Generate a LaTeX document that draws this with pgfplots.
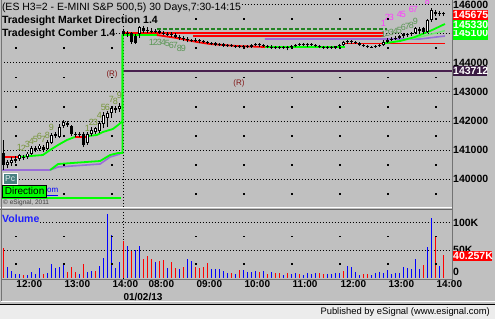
\documentclass[border=0pt]{standalone}
\usepackage{fontspec}
\setmainfont{Liberation Sans}
\usepackage{pgfplots}
\usepackage{pgfplotstable}
\pgfplotsset{compat=1.18}
\definecolor{bg}{RGB}{192,192,192}
\definecolor{upg}{RGB}{0,255,0}
\definecolor{lgreen}{RGB}{110,235,110}
\definecolor{vblue}{RGB}{0,0,255}
\definecolor{vred}{RGB}{255,0,0}
\definecolor{purp}{RGB}{153,110,215}
\definecolor{dpurpline}{RGB}{72,32,78}
\definecolor{dpurp}{RGB}{58,26,66}
\definecolor{dgreen}{RGB}{34,130,34}
\definecolor{cnt}{RGB}{90,150,85}
\definecolor{cntb}{RGB}{120,150,60}
\definecolor{mag}{RGB}{255,60,255}
\definecolor{maroon}{RGB}{128,20,20}
\definecolor{teal2}{RGB}{72,128,128}
\definecolor{foot}{RGB}{236,236,236}
\definecolor{volblue}{RGB}{30,30,255}
\newcommand{\fs}[1]{\fontsize{#1}{#1}\selectfont}
\newcommand{\cn}[4]{\node[#1, font=\fs{9}, inner sep=0pt] at (axis cs:#2,#3) {#4};}

\pgfplotstableread{
k o h l c
0 140900 141350 140325 140475
1 140475 140650 140375 140575
2 140550 140750 140450 140650
3 140625 140800 140550 140700
4 140700 140875 140625 140825
5 140750 140825 140650 140725
6 140750 140925 140700 140875
7 140875 141150 140825 141075
8 141000 141150 140925 141075
9 141025 141200 140975 141150
10 141100 141175 140925 141000
11 141025 141350 141000 141275
12 141250 141575 141200 141525
13 141475 141625 141400 141550
14 141450 141900 141400 141800
15 141825 142025 141750 141950
16 141925 142000 141800 141850
17 141825 141850 141475 141550
18 141550 141625 141450 141525
19 141525 141625 141450 141550
20 141550 141625 141100 141175
21 141250 141625 141175 141550
22 141550 141800 141475 141675
23 141625 141800 141550 141750
24 141650 142000 141575 141925
25 141900 142300 141750 142200
26 142100 142350 141800 142275
27 142275 142500 142100 142450
28 142375 142500 142275 142450
29 142400 142625 142300 142500
30 145100 145150 144925 145000
31 145000 145100 144875 145025
32 145025 145050 144650 144700
33 144925 145000 144650 144675
34 145000 145300 144850 145225
35 145200 145250 145025 145100
36 145125 145225 145025 145100
37 145100 145200 145025 145075
38 145100 145150 145025 145075
39 145100 145125 145000 145025
40 145025 145100 144950 145000
41 145000 145050 144925 144975
42 145000 145050 144875 144950
43 144950 145025 144850 144875
44 144875 144950 144775 144850
45 144850 144925 144750 144825
46 144825 144875 144700 144775
47 144775 144825 144700 144750
48 144750 144850 144700 144775
49 144775 144825 144675 144750
50 144750 144775 144675 144700
51 144700 144750 144650 144675
52 144675 144700 144600 144650
53 144675 144700 144575 144600
54 144600 144675 144575 144650
55 144650 144675 144550 144575
56 144575 144650 144550 144600
57 144600 144650 144550 144575
58 144575 144600 144500 144550
59 144575 144600 144500 144550
60 144550 144600 144500 144575
61 144575 144600 144500 144550
62 144550 144650 144500 144600
63 144600 144675 144575 144650
64 144650 144675 144550 144600
65 144600 144650 144550 144575
66 144575 144600 144500 144550
67 144550 144600 144475 144525
68 144550 144575 144475 144500
69 144500 144575 144475 144550
70 144550 144575 144475 144500
71 144500 144575 144425 144550
72 144550 144600 144500 144575
73 144575 144650 144550 144600
74 144600 144675 144575 144650
75 144650 144675 144575 144600
76 144600 144675 144550 144650
77 144650 144675 144575 144600
78 144600 144650 144550 144575
79 144575 144600 144500 144550
80 144550 144575 144475 144500
81 144500 144575 144475 144550
82 144550 144575 144475 144500
83 144500 144575 144475 144575
84 144575 144650 144550 144600
85 144600 144750 144575 144700
86 144700 144775 144650 144750
87 144750 144775 144650 144700
88 144700 144750 144650 144675
89 144675 144700 144575 144600
90 144600 144650 144550 144575
91 144575 144600 144500 144550
92 144550 144575 144500 144525
93 144550 144600 144500 144575
94 144575 144650 144550 144600
95 144600 144775 144575 144700
96 144700 144850 144675 144775
97 144775 144875 144750 144825
98 144825 144925 144775 144850
99 144850 144950 144825 144925
100 144925 145025 144850 145000
101 144950 145025 144875 145000
102 145000 145050 144925 145025
103 145025 145225 145000 145200
104 145150 145225 145025 145100
105 145200 145225 145000 145050
106 145050 145500 145025 145475
107 145475 145875 145400 145800
108 145750 145800 145600 145675
109 145675 145775 145600 145700
110 145700 145750 145600 145675
}\candles

\pgfplotstableread{
k o c
1 140475 140575
2 140550 140650
4 140700 140825
6 140750 140875
7 140875 141075
9 141025 141150
11 141025 141275
12 141250 141525
14 141450 141800
15 141825 141950
21 141250 141550
22 141550 141675
23 141625 141750
24 141650 141925
25 141900 142200
26 142100 142275
27 142275 142450
29 142400 142500
34 145000 145225
85 144600 144700
95 144600 144700
103 145025 145200
106 145050 145475
107 145475 145800
}\upbodies

\pgfplotstableread{
k v
1 19
2 13
3 6
4 7
6 5
7 10
8 6
9 17
11 9
12 24
13 17
14 20
15 24
19 6
21 11
22 12
24 22
25 35
26 115
27 78
28 17
29 28
31 57
33 50
34 57
38 28
41 17
44 16
46 34
47 31
52 15
53 15
54 16
55 12
56 8
58 7
60 14
61 11
62 11
63 13
65 13
67 10
70 5
72 7
73 8
75 5
76 8
77 7
78 8
81 7
82 7
83 8
84 8
86 21
87 19
88 10
89 5
92 5
93 8
94 11
95 8
96 14
97 7
98 9
99 9
100 20
101 18
102 16
103 34
104 15
106 55
107 108
109 22
}\volblue

\pgfplotstableread{
k v
0 54
5 5
10 6
16 10
17 20
18 10
20 25
23 12
30 67
32 48
35 34
36 39
37 34
39 30
40 32
42 28
43 18
45 19
48 19
49 18
50 19
51 27
57 9
59 14
64 11
66 7
68 9
69 9
71 8
74 7
79 8
80 6
85 12
90 7
91 7
105 23
108 75
110 40.257
}\volred

\begin{document}
\begin{tikzpicture}
\useasboundingbox (0pt,0pt) rectangle (495pt,-319pt);
\clip (0pt,0pt) rectangle (495pt,-319pt);
\fill[bg] (0pt,0pt) rectangle (495pt,-319pt);

% ---------------- price panel ----------------
\begin{axis}[
  at={(1.5pt,-207pt)}, anchor=south west,
  scale only axis, width=450.5pt, height=207pt,
  xmin=-0.45, xmax=112.175, ymin=139041.5, ymax=146154,
  axis line style={draw=none},
  xtick=\empty,
  ytick={140000,141000,142000,143000,144000,145000,146000},
  yticklabels={140000,141000,142000,143000,144000,145000,146000},
  yticklabel pos=right,
  major tick length=0pt,
  ymajorgrids,
  major grid style={black, line width=0.8pt, dash pattern=on 0.8pt off 2.2pt},
  yticklabel style={font=\bfseries\fs{10.5}, inner sep=1pt, anchor=west},
]
\addplot[only marks, mark=square*, mark size=0.45pt, black] coordinates {
(3,139500)(15,139500)(27,139500)(48,139500)(60,139500)(72,139500)(84,139500)(96,139500)(108,139500)
(3,140500)(15,140500)(27,140500)(48,140500)(60,140500)(72,140500)(84,140500)(96,140500)(108,140500)
(3,141500)(15,141500)(27,141500)(48,141500)(60,141500)(72,141500)(84,141500)(96,141500)(108,141500)
(3,142500)(15,142500)(27,142500)(48,142500)(60,142500)(72,142500)(84,142500)(96,142500)(108,142500)
(3,143500)(15,143500)(27,143500)(48,143500)(60,143500)(72,143500)(84,143500)(96,143500)(108,143500)
(3,144500)(15,144500)(27,144500)(48,144500)(60,144500)(72,144500)(84,144500)(96,144500)(108,144500)
(3,145500)(15,145500)(27,145500)(48,145500)(60,145500)(72,145500)(84,145500)(96,145500)(108,145500)
};
\draw[black, line width=0.8pt, dash pattern=on 0.8pt off 2.2pt] (axis cs:30,139041.5) -- (axis cs:30,146154);
% level lines
\addplot[upg, line width=1.8pt] coordinates {(-0.45,139350) (29.5,139350)};
\addplot[dpurpline, line width=2pt] coordinates {(29.8,143712) (112.2,143712)};
% day 1 indicator lines
\addplot[purp, line width=1.6pt] coordinates {(-0.45,140313) (11.7,140313) (13.7,140416) (24.2,140519) (26.7,140760) (29.2,140863)};
\addplot[upg, line width=1.8pt] coordinates {(11.7,140313) (13.7,140519) (24.2,140622) (26.7,140828) (28.7,140897) (29.8,140897) (29.8,144951)};
\addplot[vred, line width=1.8pt] coordinates {(-0.45,140760) (3.7,140760)};
\addplot[upg, line width=1.8pt] coordinates {(3.7,140760) (9.9,140828) (11.7,141000) (13.7,141172) (15.9,141344) (17.9,141447)};
\addplot[vred, line width=1.8pt] coordinates {(17.9,141447) (21.2,141447)};
\addplot[upg, line width=1.8pt] coordinates {(21.2,141481) (23.4,141515) (24.9,141619) (27.4,141722) (28.7,141859) (29.6,141962) (29.8,141962) (29.8,144951) (38.4,144951)};
% day 2 bands
\addplot[vred, line width=1.8pt] coordinates {(29.8,145010) (95.2,145010)};
\addplot[vred, line width=1.8pt] coordinates {(47.5,144917) (95.2,144917)};
\addplot[purp, line width=1.6pt] coordinates {(65.4,144814) (95,144814) (104.2,144814) (110.4,144917)};
\addplot[dgreen, line width=1.2pt, dash pattern=on 4pt off 2pt] coordinates {(38.4,145158) (95.9,145158)};
\addplot[vred, line width=1.8pt] coordinates {(38.4,144951) (43.4,144848) (48.4,144711) (51.7,144642) (58.4,144573) (65.4,144540)};
\addplot[upg, line width=1.8pt] coordinates {(65.4,144540) (85.4,144540)};
\addplot[vred, line width=1.8pt] coordinates {(85.4,144660) (110.4,144660)};
\addplot[lgreen, line width=1.5pt] coordinates {(95,144660) (104.2,144883) (110.4,145100)};
\addplot[upg, line width=1.8pt] coordinates {(95,144660) (99.2,144745) (102.9,144883) (106.7,145089) (110.4,145330)};
% candles
\addplot[quiver={u=0,v=\thisrow{h}-\thisrow{l}}, black, line width=0.8pt, mark=none] table[x=k,y=l]{\candles};
\addplot[quiver={u=0,v=\thisrow{c}-\thisrow{o}}, black, line width=3pt, mark=none] table[x=k,y=o]{\candles};
\addplot[quiver={u=0,v=\thisrow{c}-\thisrow{o}}, white, line width=1.2pt, shorten >=0.8pt, shorten <=0.8pt, mark=none] table[x=k,y=o]{\upbodies};
% counts
\cn{cntb}{4}{141103}{1}\cn{cntb}{5}{141069}{2}\cn{cntb}{6}{141206}{3}
\cn{cntb}{7}{141309}{4}\cn{cntb}{8}{141378}{5}\cn{cntb}{9}{141481}{6}
\cn{cntb}{10}{141378}{7}\cn{cntb}{11}{141515}{8}\cn{cntb}{12}{141790}{9}
\cn{cntb}{21}{141756}{1}\cn{cntb}{22}{141962}{2}\cn{cntb}{23}{141962}{3}
\cn{cntb}{24}{142203}{4}\cn{cntb}{25}{142477}{5}\cn{cntb}{26}{142477}{6}
\cn{cntb}{27}{142752}{7}\cn{cntb}{28}{142684}{8}\cn{cntb}{29}{142890}{9}
\cn{cnt}{37}{144711}{1}\cn{cnt}{38}{144711}{2}\cn{cnt}{39}{144711}{3}
\cn{cnt}{40}{144711}{4}\cn{cnt}{41}{144677}{5}\cn{cnt}{42}{144608}{6}
\cn{cnt}{43}{144608}{7}\cn{cnt}{44}{144505}{8}\cn{cnt}{45}{144505}{9}
\cn{cnt}{95}{144986}{1}\cn{cnt}{96}{145020}{2}\cn{cnt}{97}{145054}{3}
\cn{cnt}{98}{145089}{4}\cn{cnt}{99}{145123}{5}\cn{cnt}{100}{145226}{6}
\cn{cnt}{101}{145261}{7}\cn{cnt}{102}{145295}{8}\cn{cnt}{103}{145432}{9}
\cn{mag}{95}{145364}{1}\cn{mag}{96}{145570}{2}\cn{mag}{97}{145570}{3}
\cn{mag}{99}{145673}{4}\cn{mag}{100}{145673}{5}\cn{mag}{102}{145845}{6}
\cn{mag}{103}{145845}{7}\cn{mag}{106}{146120}{8}
\node[maroon, font=\fs{8}, inner sep=0pt] at (axis cs:27.2,143611) {(R)};
\node[maroon, font=\fs{8}, inner sep=0pt] at (axis cs:58.9,143302) {(R)};
\end{axis}

% ---------------- volume panel ----------------
\begin{axis}[
  at={(1.5pt,-279pt)}, anchor=south west,
  scale only axis, width=450.5pt, height=69pt,
  xmin=-0.45, xmax=112.175, ymin=-2.35, ymax=122.4,
  axis line style={draw=none},
  xtick={3,15,27,36,48,60,72,84,96,108},
  xticklabels={12:00,13:00,14:00,08:00,09:00,10:00,11:00,12:00,13:00,14:00},
  xticklabel style={font=\bfseries\fs{10}, anchor=north west, inner sep=1pt},
  ytick={50,100}, yticklabels={50K,100K},
  yticklabel pos=right,
  yticklabel style={font=\bfseries\fs{10.5}, inner sep=1pt, anchor=west},
  major tick length=0pt,
  ymajorgrids,
  major grid style={black, line width=0.8pt, dash pattern=on 0.8pt off 2.2pt},
]
\addplot[only marks, mark=square*, mark size=0.45pt, black] coordinates {
(3,25)(15,25)(27,25)(48,25)(60,25)(72,25)(84,25)(96,25)(108,25)
(3,75)(15,75)(27,75)(48,75)(60,75)(72,75)(84,75)(96,75)(108,75)
};
\draw[black, line width=0.8pt, dash pattern=on 0.8pt off 2.2pt] (axis cs:30,-2.35) -- (axis cs:30,122.4);
\addplot[ycomb, vblue, line width=1.2pt, mark=none] table[x=k,y=v]{\volblue};
\addplot[ycomb, vred, line width=1.2pt, mark=none] table[x=k,y=v]{\volred};
\end{axis}

% ---------------- frame, labels, boxes ----------------
\begin{scope}[x=1pt,y=-1pt]
\draw[white, line width=1pt] (0,207.5) -- (452,207.5);
\draw[black!60, line width=1pt] (0,209.7) -- (452,209.7);
\draw[black!55, line width=0.9pt] (452,0) -- (452,279.5);
\draw[black!55, line width=0.9pt] (1,0) -- (1,301);
\draw[black!55, line width=0.9pt] (1,279.5) -- (452,279.5);
\draw[white, line width=0.8pt] (1,301.5) -- (495,301.5);
\fill[foot] (0,304) rectangle (495,319);
\draw[black, line width=1pt] (0,304) -- (495,304);
\node[anchor=east, inner sep=0pt, font=\fs{9.4}] at (490,312) {Published by eSignal (www.esignal.com)};
\node[anchor=west, inner sep=0pt, font=\bfseries\fs{10}] at (123.3,297) {01/02/13};
% titles
\node[anchor=west, inner sep=0.3pt, fill=bg, font=\fs{10.5}] at (1.5,7.5) {(ES H3=2 - E-MINI S\&P 500,5) 30 Days,7:30-14:15};
\node[anchor=west, inner sep=0.3pt, fill=bg, font=\bfseries\fs{10.5}] at (1.5,21) {Tradesight Market Direction 1.4};
\node[anchor=west, inner sep=0.3pt, fill=bg, font=\bfseries\fs{10.5}] at (1.5,34) {Tradesight Comber 1.4};
% bottom-left widgets
\node[anchor=east, inner sep=0pt, font=\fs{8}, text=vblue] at (58.5,191) {\underline{eSignal.com}};
\draw[fill=teal2, draw=white, line width=0.8pt] (3.5,173.5) rectangle (17,184);
\node[font=\fs{8.5}, text=white!85!teal2, inner sep=0pt] at (10.2,178.8) {Pc};
\draw[fill=upg, draw=black, line width=0.8pt] (2.8,185.6) rectangle (46.5,197);
\node[font=\fs{10}, inner sep=0pt] at (24.6,191.4) {Direction};
\node[anchor=west, inner sep=0pt, font=\fs{6.5}, text=black!75] at (3,202.5) {\textcopyright{} eSignal, 2011};
\node[anchor=west, inner sep=0.5pt, fill=bg, font=\bfseries\fs{10.5}, text=volblue] at (1.5,218.5) {Volume};
% right value boxes
\fill[vred] (452.5,10) rectangle (488,19.5);
\node[anchor=west, inner sep=1pt, text=white, font=\bfseries\fs{10.5}] at (452,14.8) {145675};
\fill[upg] (452.5,29) rectangle (488,40);
\node[anchor=west, inner sep=1pt, text=white, font=\bfseries\fs{10.5}] at (452,33) {145100};
\fill[upg] (452.5,19.5) rectangle (488,29.5);
\node[anchor=west, inner sep=1pt, text=white, font=\bfseries\fs{10.5}] at (452,24.5) {145330};
\fill[dpurp] (452.5,66) rectangle (487,76);
\node[anchor=west, inner sep=1pt, text=white, font=\bfseries\fs{10.5}] at (452,71) {143712};
\node[anchor=west, inner sep=1pt, font=\bfseries\fs{10.5}] at (452,271.5) {0};
\fill[vred] (452.5,251) rectangle (491.5,261);
\node[anchor=west, inner sep=1pt, text=white, font=\bfseries\fs{10.5}] at (452,256) {40.257K};
\end{scope}
\end{tikzpicture}
\end{document}
